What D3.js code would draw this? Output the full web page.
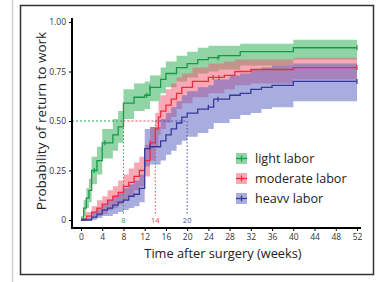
<!DOCTYPE html>
<html><head><meta charset="utf-8">
<script src="https://cdn.jsdelivr.net/npm/d3@7"></script>
<style>body{margin:0;background:#fff}svg{display:block}text{font-family:"Open Sans",sans-serif}</style>
</head><body><svg id="c" width="382" height="282"></svg>
<script>
// ---- data ----
const xTicks = [0,4,8,12,16,20,24,28,32,36,40,44,48,52];
const yTicks = [0,0.25,0.5,0.75,1];
const yTickLabels = ["0","0.25","0.50","0.75","1.00"];
const groups = ["light labor","moderate labor","heavv labor"];
const medians = [8,14,20];

const lightT  = [0,0.5,1,1.5,2,3,4,6,7,8,10,12,13,15,16,18,20,22,24,26,30,40];
const lightS  = [0,0.06,0.11,0.15,0.25,0.30,0.39,0.43,0.47,0.59,0.62,0.63,0.67,0.71,0.74,0.77,0.79,0.81,0.82,0.83,0.85,0.87];
const lightLo = [0,0.02,0.06,0.09,0.18,0.23,0.31,0.35,0.39,0.51,0.55,0.56,0.60,0.64,0.67,0.70,0.72,0.74,0.75,0.76,0.78,0.81];
const lightHi = [0.02,0.10,0.16,0.21,0.32,0.37,0.46,0.51,0.55,0.66,0.69,0.70,0.73,0.77,0.80,0.83,0.85,0.87,0.88,0.88,0.89,0.91];
const lightCens = [2.5,4.5,12.4,13,25.8,52];

const modT  = [0,1,2,3,4,5,6,7,8,9,10,11,12,13,14,14.6,15,16,17,18,19,21,24,27,29,32,40];
const modS  = [0,0.02,0.04,0.06,0.08,0.10,0.12,0.14,0.17,0.19,0.22,0.25,0.30,0.39,0.46,0.52,0.55,0.58,0.61,0.64,0.67,0.70,0.72,0.73,0.75,0.76,0.77];
const modLo = [0,0,0.01,0.02,0.03,0.05,0.06,0.08,0.10,0.12,0.15,0.17,0.22,0.30,0.37,0.43,0.46,0.49,0.52,0.56,0.59,0.62,0.64,0.66,0.68,0.69,0.71];
const modHi = [0.01,0.04,0.07,0.10,0.12,0.15,0.17,0.20,0.23,0.26,0.29,0.32,0.38,0.47,0.54,0.60,0.63,0.66,0.69,0.72,0.74,0.77,0.79,0.80,0.81,0.81,0.82];
const modCens = [13,24.9,26,52];

const heavyT  = [0,2,3,4,5,6,7,8,9,10,11,12,13,15,16,17,18,19,20,22,24,25,28,30,32,34,36,40];
const heavyS  = [0,0.015,0.03,0.05,0.06,0.075,0.09,0.10,0.12,0.13,0.16,0.36,0.37,0.40,0.43,0.46,0.49,0.52,0.54,0.56,0.57,0.61,0.63,0.64,0.66,0.67,0.68,0.70];
const heavyLo = [0,0,0.01,0.02,0.02,0.03,0.04,0.05,0.06,0.07,0.09,0.27,0.28,0.30,0.33,0.35,0.38,0.40,0.42,0.44,0.46,0.49,0.51,0.53,0.54,0.56,0.57,0.60];
const heavyHi = [0.01,0.04,0.06,0.08,0.10,0.12,0.14,0.16,0.18,0.20,0.23,0.46,0.47,0.51,0.54,0.57,0.60,0.63,0.65,0.67,0.68,0.71,0.73,0.74,0.76,0.77,0.78,0.79];
const heavyCens = [13,24,25.8,52];

// ---- drawing ----
const svg = d3.select("#c");
const x = d3.scaleLinear().domain([0,52]).range([81,357]);
const y = d3.scaleLinear().domain([0,1]).range([220,22]);

svg.append("line").attr("x1",12.5).attr("x2",12.5).attr("y1",0).attr("y2",282).attr("stroke","#d0d0d0").attr("stroke-width",1.5);
svg.append("rect").attr("x",20.5).attr("y",5.5).attr("width",353).attr("height",269).attr("fill","none").attr("stroke","#333").attr("stroke-width",1.5);

const series = [
  {T:lightT,S:lightS,Lo:lightLo,Hi:lightHi,C:lightCens,line:"#169a48",band:"#2cae55"},
  {T:modT,S:modS,Lo:modLo,Hi:modHi,C:modCens,line:"#ec2c3c",band:"#f25a72"},
  {T:heavyT,S:heavyS,Lo:heavyLo,Hi:heavyHi,C:heavyCens,line:"#353a9a",band:"#5a5fbf"}
];
series.forEach(s=>{
  s.pts = s.T.map((t,i)=>({t,s:s.S[i],lo:s.Lo[i],hi:s.Hi[i]}));
  const last = s.pts[s.pts.length-1];
  s.pts.push({t:52,s:last.s,lo:last.lo,hi:last.hi});
});
const area = d3.area().curve(d3.curveStepAfter).x(d=>x(d.t)).y0(d=>y(d.lo)).y1(d=>y(d.hi));
const line = d3.line().curve(d3.curveStepAfter).x(d=>x(d.t)).y(d=>y(d.s));
series.forEach(s=>{
  svg.append("path").attr("d",area(s.pts)).attr("fill",s.band).attr("fill-opacity",0.52);
});

// median guide lines
const medColors = ["#2aa853","#ee4455","#4a50b0"];
let prev = 0;
medians.forEach((m,i)=>{
  svg.append("line").attr("x1",i===0?72:x(prev)).attr("x2",x(m)).attr("y1",y(0.5)).attr("y2",y(0.5))
    .attr("stroke",medColors[i]).attr("stroke-width",1).attr("stroke-dasharray","2,2");
  svg.append("line").attr("x1",x(m)).attr("x2",x(m)).attr("y1",y(0.5)).attr("y2",y(0)-5)
    .attr("stroke",medColors[i]).attr("stroke-width",1).attr("stroke-dasharray","1.5,2");
  svg.append("text").attr("x",x(m)).attr("y",y(0)+3).attr("text-anchor","middle")
    .attr("font-size",7.5).attr("fill",medColors[i]).text(m);
  prev = m;
});

series.forEach(s=>{
  svg.append("path").attr("d",line(s.pts)).attr("fill","none").attr("stroke",s.line).attr("stroke-width",1.3);
  s.C.forEach(c=>{
    let v = s.pts[0].s;
    s.pts.forEach(p=>{ if(p.t<=c) v=p.s; });
    svg.append("line").attr("x1",x(c)).attr("x2",x(c)).attr("y1",y(v)-2.5).attr("y2",y(v)+2.5)
      .attr("stroke",s.line).attr("stroke-width",1.2);
  });
});

// axes
const ya = svg.append("g").attr("transform","translate(72,0)")
  .call(d3.axisLeft(y).tickValues(yTicks).tickSize(3).tickFormat((d,i)=>yTickLabels[i]));
ya.select(".domain").attr("d","M0,18V228").attr("stroke","#000").attr("stroke-width",2);
ya.selectAll(".tick text").attr("font-size",8.5).attr("fill","#333").attr("font-family","'Open Sans',sans-serif");
const xa = svg.append("g").attr("transform","translate(0,228)")
  .call(d3.axisBottom(x).tickValues(xTicks).tickSize(3));
xa.select(".domain").attr("d","M71,0H361").attr("stroke","#000").attr("stroke-width",2);
xa.selectAll(".tick text").attr("font-size",8.5).attr("fill","#333").attr("font-family","'Open Sans',sans-serif");

svg.append("text").attr("transform","translate(46,121) rotate(-90)").attr("text-anchor","middle")
  .attr("font-size",13.5).attr("fill","#222").text("Probability of return to work");
svg.append("text").attr("x",223).attr("y",258).attr("text-anchor","middle")
  .attr("font-size",12.8).attr("fill","#222").text("Time after surgery (weeks)");

// legend
groups.forEach((g,i)=>{
  const yy = 158 + i*20;
  const s = series[i];
  svg.append("rect").attr("x",236).attr("y",yy-5).attr("width",11).attr("height",11).attr("fill",s.band).attr("fill-opacity",0.52);
  svg.append("line").attr("x1",236).attr("x2",247).attr("y1",yy+0.5).attr("y2",yy+0.5).attr("stroke",s.line).attr("stroke-width",1.3);
  svg.append("line").attr("x1",241.5).attr("x2",241.5).attr("y1",yy-2.5).attr("y2",yy+3.5).attr("stroke",s.line).attr("stroke-width",1.2);
  svg.append("text").attr("x",255).attr("y",yy+4.5).attr("font-size",12.6).attr("fill","#222").text(g);
});
</script></body></html>
